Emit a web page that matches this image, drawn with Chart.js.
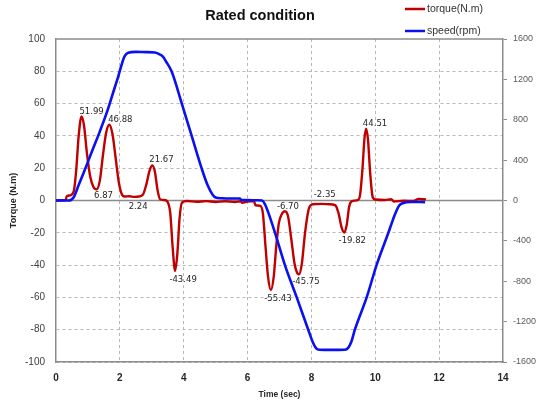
<!DOCTYPE html>
<html>
<head>
<meta charset="utf-8">
<title>Rated condition</title>
<script src="https://cdn.jsdelivr.net/npm/chart.js@4.4.1/dist/chart.umd.min.js"></script>
<style>
    html, body { margin: 0; padding: 0; background: #fff; }
    #wrap { width: 543px; height: 400px; }
</style>
</head>
<body>
<div id="wrap"><canvas id="ratedChart"></canvas></div>
<script>
// torque trace (sec, N.m) - labelled peaks are kept in peakTime/peakValues below
const torqueTime = [0, 0.30, 0.34, 0.45, 0.56, 0.63, 0.71, 0.88, 0.97, 1.07, 1.17, 1.37, 1.47, 1.57,
    1.77, 1.87, 1.97, 2.07, 2.15, 2.30, 2.60, 2.72, 2.83, 2.93, 3.10, 3.18, 3.26, 3.40, 3.50, 3.58,
    3.65, 3.80, 3.87, 3.95, 4.10, 4.40, 4.70, 5.00, 5.30, 5.60, 5.80, 5.83, 6.00, 6.20, 6.25, 6.40,
    6.48, 6.56, 6.64, 6.82, 6.90, 6.98, 7.07, 7.27, 7.37, 7.47, 7.55, 7.70, 7.80, 7.92, 8.30, 8.55,
    8.75, 8.85, 8.95, 9.11, 9.18, 9.26, 9.45, 9.52, 9.60, 9.66, 9.77, 9.84, 9.92, 10.00, 10.30, 10.50,
    10.58, 10.90, 11.20, 11.35, 11.59];
const torqueValues = [0, 0.3, 2.8, 3.2, 6, 18, 40, 46, 29, 15, 8.5, 12, 28, 42,
    41, 26, 11, 3.5, 2.5, 2.6, 2.5, 3.5, 10, 18.5, 17.5, 6.5, 0.8, 0.3, -1, -8,
    -28, -33, -11, -1.2, -0.3, -0.8, -0.4, -0.9, -0.5, -0.9, -0.5, -1.5, -0.6, -0.4, -3, -3.3,
    -8, -28, -47, -47, -28, -14, -8.5, -10, -24, -39, -44.8, -39, -20, -5, -2.1, -2.3,
    -3, -8, -17, -14.5, -4, -0.5, 0.3, 3, 20, 38, 38, 17, 2, 0.6, 0.3, 0.8,
    -0.6, -0.2, -0.3, 0.9, 0.7];

// labelled torque peaks
const peakTime = [0.80, 1.27, 1.67, 2.45, 3.02, 3.73, 6.73, 7.17, 7.61, 8.04, 9.03, 9.71];
const peakValues = [51.99, 6.87, 46.88, 2.24, 21.67, -43.49, -55.43, -6.70, -45.75, -2.35, -19.82, 44.51];
// where each label sits relative to its peak (px)
const labelOffsets = [[10, -5], [7, 6], [11, -5], [4, 10], [9, -6], [8, 9], [7, 9], [3, -5], [7, 7], [12, -9], [8, 8], [9, -5]];

// speed trace (sec, rpm)
const speedTime = [0, 0.40, 0.55, 0.70, 0.86, 1.10, 1.38, 1.60, 1.80, 1.95, 2.05, 2.15, 2.26, 2.50,
    2.80, 3.10, 3.20, 3.35, 3.45, 3.62, 3.94, 4.25, 4.56, 4.75, 4.90, 5.00, 5.20, 5.50, 5.76, 5.80,
    6.00, 6.30, 6.45, 6.55, 6.65, 6.86, 7.17, 7.54, 7.90, 8.05, 8.15, 8.25, 8.60, 9.05, 9.15, 9.25,
    9.36, 9.73, 10.04, 10.41, 10.60, 10.75, 10.88, 11.10, 11.56];
const speedValues = [0, 0, 30, 145, 270, 465, 690, 880, 1080, 1230, 1340, 1430, 1464, 1472,
    1470, 1466, 1455, 1425, 1375, 1280, 960, 640, 320, 150, 60, 30, 22, 20, 20, 6,
    4, 2, 0, -40, -120, -320, -640, -960, -1280, -1410, -1465, -1478, -1480, -1478, -1460, -1400,
    -1280, -960, -640, -320, -150, -50, -25, -15, -16];

const timeTicks = [0, 2, 4, 6, 8, 10, 12, 14];
const torqueTicks = [-100, -80, -60, -40, -20, 0, 20, 40, 60, 80, 100];
const speedTicks = [-1600, -1200, -800, -400, 0, 400, 800, 1200, 1600];

const RED = '#c00000';
const BLUE = '#0a10f0';
const AXIS = '#8c8c8c';
const GRID = '#b8b8b8';

// trace + peaks merged in time order
const torquePoints = torqueTime.map((t, i) => ({ x: t, y: torqueValues[i] }))
    .concat(peakTime.map((t, i) => ({ x: t, y: peakValues[i] })))
    .sort((a, b) => a.x - b.x);
const speedPoints = speedTime.map((t, i) => ({ x: t, y: speedValues[i] }));

Chart.defaults.font.family = "'Liberation Sans', Arial, sans-serif";

const decorations = {
    id: 'decorations',
    beforeDatasetsDraw(chart) {
        const { ctx, chartArea: a, scales: { y } } = chart;
        const y0 = y.getPixelForValue(0);
        ctx.save();
        ctx.strokeStyle = AXIS;
        ctx.lineWidth = 1.5;
        ctx.beginPath();
        ctx.moveTo(a.left, y0);
        ctx.lineTo(a.right, y0);
        ctx.moveTo(a.left, a.top);
        ctx.lineTo(a.right, a.top);
        ctx.stroke();
        ctx.restore();
    },
    afterDatasetsDraw(chart) {
        const { ctx, scales: { x, y } } = chart;
        ctx.save();
        ctx.font = "8.5px 'DejaVu Sans', sans-serif";
        ctx.fillStyle = '#262626';
        ctx.textAlign = 'center';
        ctx.textBaseline = 'middle';
        peakTime.forEach((t, i) => {
            const px = x.getPixelForValue(t) + labelOffsets[i][0];
            const py = y.getPixelForValue(peakValues[i]) + labelOffsets[i][1];
            ctx.fillText(peakValues[i].toFixed(2), px, py);
        });
        ctx.restore();
    },
    afterDraw(chart) {
        const { ctx } = chart;
        ctx.save();
        // title
        ctx.fillStyle = '#111';
        ctx.font = "bold 14.5px 'Liberation Sans', Arial, sans-serif";
        ctx.textAlign = 'center';
        ctx.textBaseline = 'middle';
        ctx.fillText('Rated condition', 260, 16);
        // legend
        const items = [['torque(N.m)', RED, 9], ['speed(rpm)', BLUE, 31]];
        ctx.font = "10.5px 'Liberation Sans', Arial, sans-serif";
        ctx.textAlign = 'left';
        items.forEach(([text, color, ly]) => {
            ctx.strokeStyle = color;
            ctx.lineWidth = 2.5;
            ctx.beginPath();
            ctx.moveTo(405, ly);
            ctx.lineTo(425, ly);
            ctx.stroke();
            ctx.fillStyle = '#333';
            ctx.fillText(text, 427, ly);
        });
        ctx.restore();
    }
};

new Chart(document.getElementById('ratedChart'), {
    type: 'line',
    data: {
        datasets: [{
            label: 'speed(rpm)',
            data: speedPoints,
            yAxisID: 'y2',
            borderColor: BLUE,
            borderWidth: 2.6,
            pointRadius: 0,
            cubicInterpolationMode: 'monotone',
            order: 0
        }, {
            label: 'torque(N.m)',
            data: torquePoints,
            yAxisID: 'y',
            borderColor: RED,
            borderWidth: 2.4,
            pointRadius: 0,
            cubicInterpolationMode: 'monotone',
            order: 1
        }]
    },
    options: {
        responsive: true,
        maintainAspectRatio: false,
        animation: false,
        layout: { padding: { top: 39, left: 0, right: 0, bottom: 0 } },
        plugins: {
            legend: { display: false },
            tooltip: { enabled: false }
        },
        scales: {
            x: {
                type: 'linear',
                min: 0,
                max: 14,
                afterBuildTicks: s => { s.ticks = timeTicks.map(v => ({ value: v })); },
                afterFit: s => { s.height = 38; },
                ticks: {
                    padding: 10,
                    color: '#262626',
                    font: { size: 10, weight: 'bold' }
                },
                grid: {
                    drawTicks: false,
                    color: c => (c.tick && (c.tick.value === 0 || c.tick.value === 14)) ? 'transparent' : GRID
                },
                border: { color: AXIS, width: 1.5, dash: [3, 3] },
                title: {
                    display: true,
                    text: 'Time (sec)',
                    color: '#262626',
                    font: { size: 8.5, weight: 'bold' },
                    padding: { top: 2, bottom: 0 }
                }
            },
            y: {
                position: 'left',
                min: -100,
                max: 100,
                afterBuildTicks: s => { s.ticks = torqueTicks.map(v => ({ value: v })); },
                afterFit: s => { s.width = 56; },
                ticks: {
                    padding: 11,
                    color: '#404040',
                    font: { size: 10 }
                },
                grid: {
                    drawTicks: false,
                    color: c => (c.tick && (c.tick.value === 0 || c.tick.value === 100)) ? 'transparent' : GRID
                },
                border: { color: AXIS, width: 1.5, dash: [3, 3] },
                title: {
                    display: true,
                    text: 'Torque (N.m)',
                    color: '#262626',
                    font: { size: 9, weight: 'bold' },
                    padding: { top: 8, bottom: 0 }
                }
            },
            y2: {
                position: 'right',
                min: -1600,
                max: 1600,
                afterBuildTicks: s => { s.ticks = speedTicks.map(v => ({ value: v })); },
                afterFit: s => { s.width = 40; },
                ticks: {
                    padding: 6,
                    color: '#595959',
                    font: { size: 9 },
                    callback: v => String(v)
                },
                grid: {
                    drawOnChartArea: false,
                    drawTicks: true,
                    tickLength: 4,
                    tickColor: AXIS
                },
                border: { color: AXIS, width: 1.5 }
            }
        }
    },
    plugins: [decorations]
});
</script>
</body>
</html>
